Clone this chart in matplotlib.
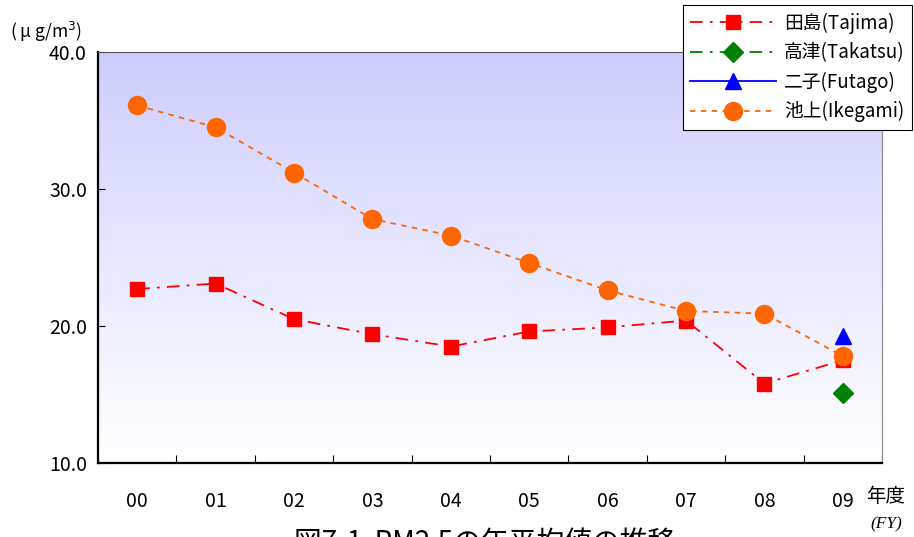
import numpy as np
import matplotlib.pyplot as plt

plt.rcParams['font.family'] = ['Noto Sans CJK JP', 'DejaVu Sans']

# データ (μg/m3)
years = ['00', '01', '02', '03', '04', '05', '06', '07', '08', '09']
tajima = [22.7, 23.1, 20.5, 19.4, 18.5, 19.6, 19.9, 20.4, 15.8, 17.5]
ikegami = [36.1, 34.5, 31.2, 27.8, 26.6, 24.6, 22.6, 21.1, 20.9, 17.8]
takatsu_x = ['09']
takatsu = [15.1]
futago_x = ['09']
futago = [19.3]
y_ticks = [10, 20, 30, 40]

fig = plt.figure(figsize=(9.14, 5.37), dpi=100)
ax = fig.add_axes([98 / 914, 1 - 463 / 537, 784 / 914, 411 / 537])

x = np.arange(len(years))
xt = [years.index(v) for v in takatsu_x]
xf = [years.index(v) for v in futago_x]

# 背景グラデーション
grad = np.linspace(0, 1, 256).reshape(-1, 1)
top = np.array([0.80, 0.80, 1.0])
bot = np.array([1.0, 1.0, 1.0])
img = top + (bot - top) * grad[:, :, None] ** 0.9
ax.imshow(img, extent=[-0.5, 9.5, 10, 40], aspect='auto', zorder=0)

ax.plot(x, tajima, color='#FF0000', linestyle=(0, (7, 4, 1.5, 4)), linewidth=1.3,
        marker='s', markersize=10, label='田島(Tajima)', zorder=3)
ax.plot(xt, takatsu, color='#008000', linestyle=(0, (7, 4, 1.5, 4)), linewidth=1.3,
        marker='D', markersize=10, label='高津(Takatsu)', zorder=3)
ax.plot(xf, futago, color='#0000FF', linestyle='-', linewidth=1.3,
        marker='^', markersize=11, label='二子(Futago)', zorder=3)
ax.plot(x, ikegami, color='#FF6600', linestyle=(0, (3, 3)), linewidth=1.3,
        marker='o', markersize=13, label='池上(Ikegami)', zorder=4)

ax.set_xlim(-0.5, 9.5)
ax.set_ylim(10, 40)
ax.set_yticks(y_ticks)
ax.set_yticklabels([f'{v:.1f}' for v in y_ticks], fontsize=14)
ax.set_xticks(np.arange(-0.5, 9.6, 1))
ax.set_xticklabels([])
ax.set_xticks(x, minor=True)
ax.set_xticklabels(years, minor=True, fontsize=14)
ax.tick_params(axis='x', which='major', direction='in', length=6, width=0.8)
ax.tick_params(axis='x', which='minor', length=0, pad=20)
ax.tick_params(axis='y', direction='in', length=5, width=0.8, pad=8)

ax.spines['left'].set_linewidth(1.6)
ax.spines['bottom'].set_linewidth(1.6)
ax.spines['top'].set_color('#555555')
ax.spines['right'].set_color('#888888')

fig.text(10 / 914, 1 - 32 / 537, '( μ g/m$^3$)', fontsize=12.5, ha='left', va='center')
fig.text(866 / 914, 1 - 497 / 537, '年度', fontsize=14, ha='left', va='center')
fig.text(870 / 914, 1 - 524 / 537, '(FY)', fontsize=12.5, ha='left', va='center',
         family='Liberation Serif', style='italic')
fig.text(485 / 914, 1 - 543 / 537, '図7-1  PM2.5の年平均値の推移', fontsize=20,
         ha='center', va='center')

leg = fig.legend(loc='upper right', bbox_to_anchor=(912 / 914, 1 - 5 / 537),
                 fontsize=13.5, frameon=True, fancybox=False, framealpha=1,
                 edgecolor='black', handlelength=4.6, borderpad=0.4,
                 labelspacing=0.45, handletextpad=0.4, borderaxespad=0)
leg.get_frame().set_linewidth(0.8)

fig.savefig('out.png', dpi=100)
